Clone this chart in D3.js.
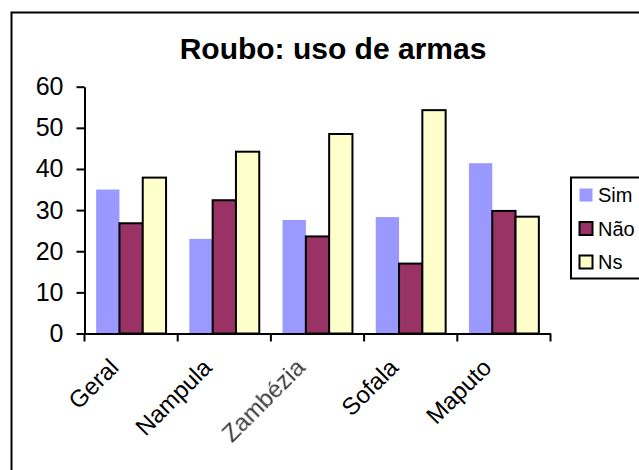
<!DOCTYPE html>
<html>
<head>
<meta charset="utf-8">
<script src="https://cdn.jsdelivr.net/npm/d3@7"></script>
<style>
  html, body { margin: 0; padding: 0; background: #fff; }
  svg { display: block; }
  text { font-family: Arial, "Liberation Sans", sans-serif; }
</style>
</head>
<body>
<svg id="chart" width="639" height="470"></svg>
<script>
const categories = ["Geral", "Nampula", "Zambézia", "Sofala", "Maputo"];
const seriesNames = ["Sim", "Não", "Ns"];
const simValues = [35, 23, 27.6, 28.3, 41.4];
const naoValues = [26.8, 32.4, 23.6, 17, 29.8];
const nsValues  = [37.9, 44.2, 48.5, 54.3, 28.4];
const yTicks = [0, 10, 20, 30, 40, 50, 60];
const colors = ["#9999FF", "#993366", "#FFFFCC"];
const strokes = ["none", "#000", "#000"];

const values = [simValues, naoValues, nsValues];
const svg = d3.select("#chart");

// outer chart border (extends past the picture edge)
svg.append("rect").attr("x", 11.5).attr("y", 12.5).attr("width", 660).attr("height", 500)
  .attr("fill", "#fff").attr("stroke", "#000").attr("stroke-width", 2);

// title
svg.append("text").attr("x", 333).attr("y", 58.5).attr("text-anchor", "middle")
  .attr("font-size", 30).attr("font-weight", "bold").text("Roubo: uso de armas");

const x0 = d3.scaleBand().domain(categories).range([84.5, 550.5]).paddingInner(0).paddingOuter(0);
const x1 = d3.scaleBand().domain(seriesNames)
  .range([x0.bandwidth() / 8, x0.bandwidth() * 7 / 8]).padding(0);
const y = d3.scaleLinear().domain([0, 60]).range([333.5, 86.7]);

// bars
const groups = svg.append("g").selectAll("g").data(categories).join("g")
  .attr("transform", d => `translate(${x0(d)},0)`);
groups.selectAll("rect")
  .data((c, i) => seriesNames.map((s, j) => ({ s, j, v: values[j][i] })))
  .join("rect")
  .attr("x", d => x1(d.s))
  .attr("y", d => y(d.v))
  .attr("width", x1.bandwidth())
  .attr("height", d => y(0) - y(d.v))
  .attr("fill", d => colors[d.j])
  .attr("stroke", d => strokes[d.j])
  .attr("stroke-width", 2);

// y axis
const yAxis = d3.axisLeft(y).tickValues(yTicks).tickSize(8).tickPadding(13).tickSizeOuter(0);
const gy = svg.append("g").attr("transform", "translate(84.5,0)").call(yAxis);
gy.select(".domain").attr("stroke", "#000").attr("stroke-width", 2);
gy.selectAll(".tick line").attr("stroke", "#000").attr("stroke-width", 2);
gy.selectAll(".tick text").attr("font-size", 25).attr("font-family", "Arial, 'Liberation Sans', sans-serif")
  .attr("fill", "#000");

// x axis
const xAxis = d3.axisBottom(x0).tickSize(8).tickSizeOuter(0).tickFormat("");
const gx = svg.append("g").attr("transform", "translate(0,333.5)").call(xAxis);
gx.select(".domain").attr("stroke", "#000").attr("stroke-width", 2);
gx.selectAll(".tick").remove();
const boundaries = categories.map(c => x0(c)).concat([x0(categories[categories.length - 1]) + x0.bandwidth()]);
gx.selectAll("line.bt").data(boundaries).join("line").attr("class", "bt")
  .attr("x1", d => d).attr("x2", d => d).attr("y1", 0).attr("y2", 8)
  .attr("stroke", "#000").attr("stroke-width", 2);

// rotated category labels
const blur = svg.append("defs").append("filter").attr("id", "soft");
blur.append("feGaussianBlur").attr("stdDeviation", 0.6);
svg.append("g").selectAll("text").data(categories).join("text")
  .attr("transform", d => `translate(${x0(d) + x0.bandwidth() / 2 - 11},369) rotate(-45)`)
  .attr("text-anchor", "end")
  .attr("font-size", 24)
  .attr("fill", d => d === "Zambézia" ? "#3a3a3a" : "#000")
  .attr("filter", d => d === "Zambézia" ? "url(#soft)" : null)
  .text(d => d);

// legend
const leg = svg.append("g");
leg.append("rect").attr("x", 571).attr("y", 177.5).attr("width", 100).attr("height", 101)
  .attr("fill", "#fff").attr("stroke", "#000").attr("stroke-width", 2);
const items = leg.selectAll("g").data(seriesNames).join("g")
  .attr("transform", (d, i) => `translate(0,${195 + i * 33.5})`);
items.append("rect").attr("x", 579.5).attr("y", -6.5).attr("width", 13).attr("height", 13)
  .attr("fill", (d, i) => colors[i]).attr("stroke", (d, i) => strokes[i]).attr("stroke-width", 2);
items.append("text").attr("x", 598).attr("y", 7).attr("font-size", 20).text(d => d);
</script>
</body>
</html>
